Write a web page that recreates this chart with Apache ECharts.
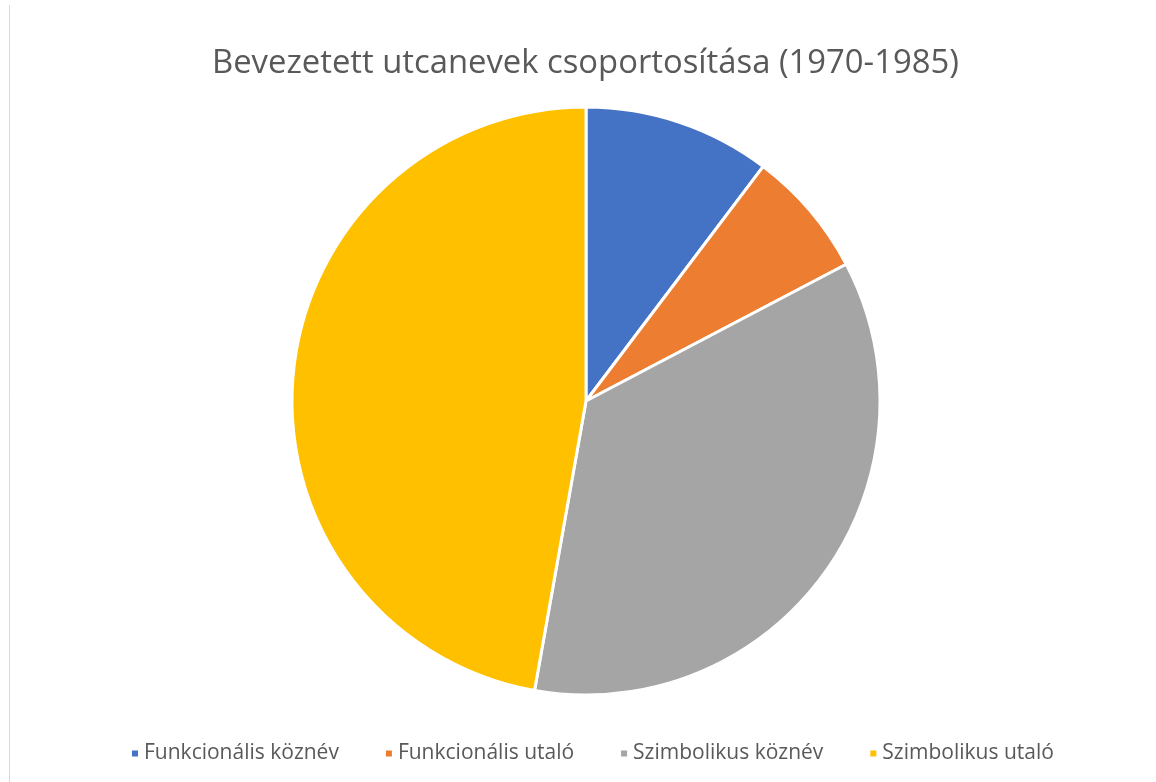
<!DOCTYPE html>
<html><head><meta charset="utf-8">
<script src="https://cdn.jsdelivr.net/npm/echarts@6/dist/echarts.min.js"></script>
<style>html,body{margin:0;padding:0;background:#fff}#c{width:1156px;height:782px}</style>
</head><body><div id="c"></div>
<script>
const titleText = 'Bevezetett utcanevek csoportosítása (1970-1985)';
const categories = ['Funkcionális köznév', 'Funkcionális utaló', 'Szimbolikus köznév', 'Szimbolikus utaló'];
const values = [10.3, 7.0, 35.5, 47.2];
const colors = ['#4472C4', '#ED7D31', '#A5A5A5', '#FFC000'];

const chart = echarts.init(document.getElementById('c'));
chart.setOption({
  animation: false,
  backgroundColor: '#fff',
  title: {
    text: titleText, left: 207, top: 42,
    textStyle: { fontFamily: 'Open Sans', fontWeight: 'normal', fontSize: 32.8, color: '#595959' }
  },
  legend: {
    bottom: 13, left: 125, icon: 'rect', itemWidth: 8, itemHeight: 8, itemGap: 45,
    textStyle: { fontFamily: 'Open Sans', fontSize: 21, color: '#595959' },
    data: categories
  },
  graphic: [{ type: 'line', shape: { x1: 9.5, y1: 5, x2: 9.5, y2: 782 }, style: { stroke: '#d9d9d9', lineWidth: 1 } }],
  series: [{
    type: 'pie', center: [586, 401], radius: [0, 294], startAngle: 90, clockwise: true,
    label: { show: false }, labelLine: { show: false },
    itemStyle: { borderColor: '#fff', borderWidth: 3 },
    emphasis: { disabled: true },
    data: categories.map((n, i) => ({ name: n, value: values[i], itemStyle: { color: colors[i] } }))
  }]
});
</script></body></html>
